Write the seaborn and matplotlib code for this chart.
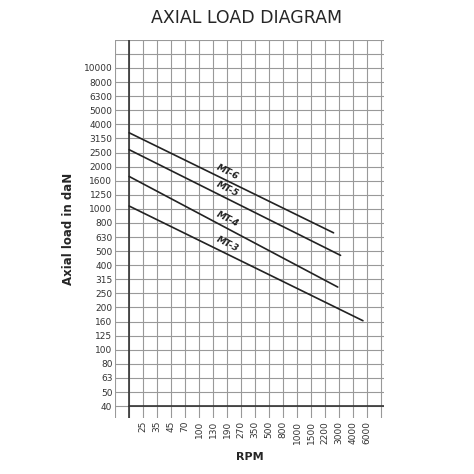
import numpy as np
import seaborn as sns
import matplotlib.pyplot as plt

sns.set_style("white")

rpm_labels = ["25", "35", "45", "70", "100", "130", "190", "270", "350",
              "500", "800", "1000", "1500", "2200", "3000", "4000", "6000"]
load_labels = ["40", "50", "63", "80", "100", "125", "160", "200", "250", "315",
               "400", "500", "630", "800", "1000", "1250", "1600", "2000",
               "2500", "3150", "4000", "5000", "6300", "8000", "10000"]

# positions on the chart grid (column / row index)
series = ["MT-6", "MT-5", "MT-4", "MT-3"]
x_start = [0, 0, 0, 0]
x_end = [14.6, 15.1, 14.9, 16.7]
y_start = [19.4, 18.2, 16.3, 14.2]
y_end = [12.3, 10.7, 8.45, 6.06]
label_xy = [(7.0, 16.6), (7.0, 15.4), (7.0, 13.3), (7.0, 11.5)]

fig = plt.figure(figsize=(4.74, 4.74), dpi=100)
ax = fig.add_axes([0.243, 0.118, 0.567, 0.798])
ax.set_xlim(-1, 18.2)
ax.set_ylim(-0.85, 26)

for gx in range(-1, 19):
    ax.axvline(gx, color="#999999", lw=0.8, zorder=1)
for gy in range(-1, 27):
    ax.axhline(gy, color="#999999", lw=0.8, zorder=1)
ax.axvline(0, color="#333333", lw=1.2, zorder=2)
ax.axhline(0, xmin=1 / 19.2, color="#333333", lw=1.2, zorder=2)

for name, x0, x1, y0, y1, (lx, ly) in zip(series, x_start, x_end, y_start, y_end, label_xy):
    sns.lineplot(x=[x0, x1], y=[y0, y1], ax=ax, color="#222222", lw=1.2, zorder=3)
    ax.text(lx, ly, name, rotation=-27, fontsize=6.5, fontweight="bold",
            fontstyle="italic", ha="center", va="center", color="#222222")

for s in ax.spines.values():
    s.set_visible(False)

ax.set_xticks(range(1, len(rpm_labels) + 1))
ax.set_xticklabels(rpm_labels, rotation=90, fontsize=6.5, color="#333333")
ax.set_yticks(range(len(load_labels)))
ax.set_yticklabels(load_labels, fontsize=6.5, color="#333333")
ax.tick_params(length=0, pad=2)
ax.set_xlabel("RPM", fontsize=8, fontweight="bold", labelpad=6)
ax.set_ylabel("Axial load in daN", fontsize=8.5, fontweight="bold", labelpad=6)

fig.text(0.52, 0.962, "AXIAL LOAD DIAGRAM", ha="center", va="center", fontsize=12.5)

fig.savefig("out.png", dpi=100, facecolor="white")
